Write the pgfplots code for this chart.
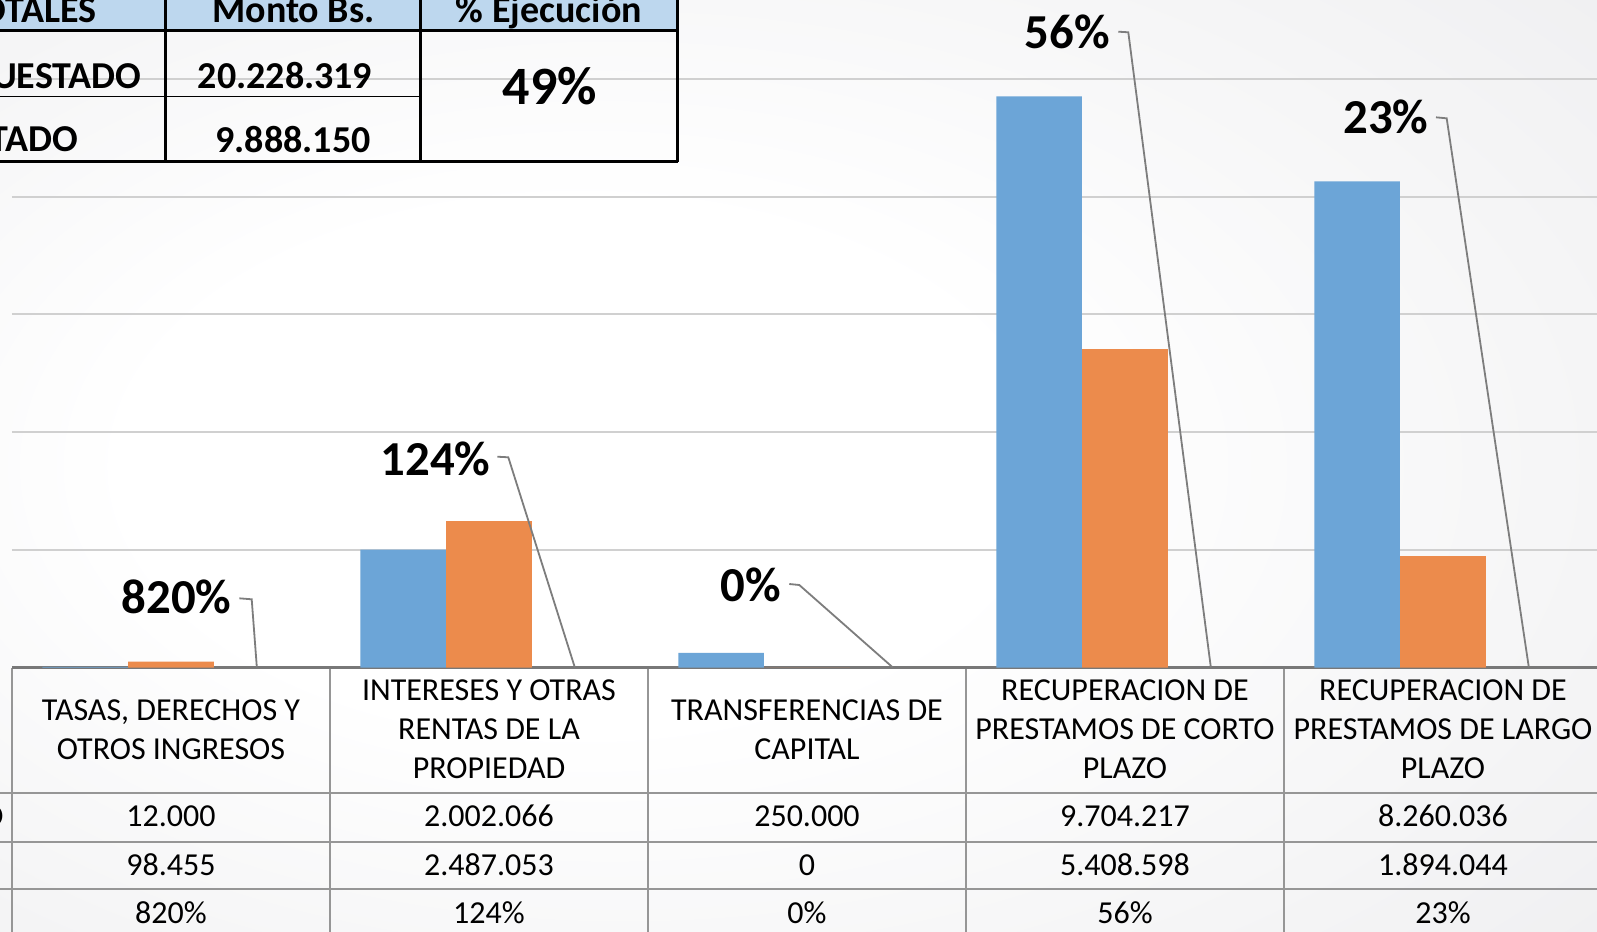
\documentclass[border=0pt]{standalone}
\usepackage{pgfplots}
\pgfplotsset{compat=1.18}
\usepackage{fontspec}
\setmainfont{Carlito}
\definecolor{barblue}{RGB}{108,165,215}
\definecolor{barorange}{RGB}{236,139,76}
\definecolor{gridgray}{RGB}{208,208,208}
\definecolor{tabgray}{RGB}{150,150,150}
\definecolor{basegray}{RGB}{120,120,120}
\definecolor{leadgray}{RGB}{125,125,125}
\definecolor{bggray}{RGB}{225,225,228}
\definecolor{headblue}{RGB}{189,215,238}
\pgfdeclareradialshading{bgshade}{\pgfpoint{-9bp}{0bp}}{color(0bp)=(white); color(14bp)=(white); color(62bp)=(bggray)}
\newcommand{\tabfont}{\fontsize{16pt}{19.5pt}\selectfont}
\newcommand{\lblfont}{\fontsize{24.4pt}{28pt}\selectfont\bfseries}
\newcommand{\boxfont}{\fontsize{19pt}{22pt}\selectfont\bfseries}
\begin{document}
\begin{tikzpicture}
\useasboundingbox (0,0) rectangle (798.5pt,-466pt);
\clip (0,0) rectangle (798.5pt,-466pt);
\begin{scope}[x=0.5pt,y=-0.5pt]
  \shade[shading=bgshade] (0,0) rectangle (1597,932);
  % data table grid
  \draw[tabgray, line width=1pt] (0,792.7) -- (1597,792.7);
  \draw[tabgray, line width=1pt] (0,841.7) -- (1597,841.7);
  \draw[tabgray, line width=1pt] (0,889.3) -- (1597,889.3);
  \foreach \cx in {12,330,648,966,1284}{
    \draw[tabgray, line width=1pt] (\cx,667.5) -- (\cx,940);
  }
  \draw[basegray, line width=1.2pt] (12,667.5) -- (1597,667.5);
  % category names
  \node[anchor=base, font=\tabfont] at (171,720) {TASAS, DERECHOS Y};
  \node[anchor=base, font=\tabfont] at (171,759) {OTROS INGRESOS};
  \node[anchor=base, font=\tabfont] at (489,700.5) {INTERESES Y OTRAS};
  \node[anchor=base, font=\tabfont] at (489,739.5) {RENTAS DE LA};
  \node[anchor=base, font=\tabfont] at (489,778.5) {PROPIEDAD};
  \node[anchor=base, font=\tabfont] at (807,720) {TRANSFERENCIAS DE};
  \node[anchor=base, font=\tabfont] at (807,759) {CAPITAL};
  \node[anchor=base, font=\tabfont] at (1125,700.5) {RECUPERACION DE};
  \node[anchor=base, font=\tabfont] at (1125,739.5) {PRESTAMOS DE CORTO};
  \node[anchor=base, font=\tabfont] at (1125,778.5) {PLAZO};
  \node[anchor=base, font=\tabfont] at (1443,700.5) {RECUPERACION DE};
  \node[anchor=base, font=\tabfont] at (1443,739.5) {PRESTAMOS DE LARGO};
  \node[anchor=base, font=\tabfont] at (1443,778.5) {PLAZO};
  % row label (cut off at the left edge)
  \node[anchor=base east, font=\tabfont, inner sep=0pt] at (4,826.7) {PRESUPUESTADO};
  % values
  \foreach \cx/\a/\b/\c in {171/12.000/98.455/820\%, 489/2.002.066/2.487.053/124\%, 807/250.000/0/0\%, 1125/9.704.217/5.408.598/56\%, 1443/8.260.036/1.894.044/23\%}{
    \node[anchor=base, font=\tabfont] at (\cx,826.7) {\a};
    \node[anchor=base, font=\tabfont] at (\cx,875) {\b};
    \node[anchor=base, font=\tabfont] at (\cx,923.3) {\c};
  }
\end{scope}
\begin{axis}[
  at={(6pt,-333.75pt)}, anchor=south west,
  scale only axis, width=795pt, height=353.1pt,
  xmin=-0.5, xmax=4.5, ymin=0, ymax=12000000,
  axis line style={draw=none},
  xtick=\empty,
  ytick={2000000,4000000,6000000,8000000,10000000},
  yticklabels={}, scaled y ticks=false,
  major tick length=0pt,
  ymajorgrids, grid style={gridgray, line width=1pt},
  clip=false,
  ybar, bar width=0.2695,
]
\addplot[fill=barblue, draw=none, bar shift=-0.27] coordinates {(0,12000) (1,2002066) (2,250000) (3,9704217) (4,8260036)};
\addplot[fill=barorange, draw=none, bar shift=0] coordinates {(0,98455) (1,2487053) (2,0) (3,5408598) (4,1894044)};
% percentage labels with leader lines
\node[anchor=base, font=\lblfont] at (axis cs:0.0173,926000) {820\%};
\draw[leadgray, line width=0.9pt] (axis cs:0.2148,1175900) -- (axis cs:0.2538,1158900) -- (axis cs:0.27,0);
\node[anchor=base, font=\lblfont] at (axis cs:0.8318,3271000) {124\%};
\draw[leadgray, line width=0.9pt] (axis cs:1.0261,3582000) -- (axis cs:1.0607,3572000) -- (axis cs:1.27,0);
\node[anchor=base, font=\lblfont] at (axis cs:1.8236,1118000) {0\%};
\draw[leadgray, line width=0.9pt] (axis cs:1.9443,1418900) -- (axis cs:1.9758,1401900) -- (axis cs:2.27,0);
\node[anchor=base, font=\lblfont] at (axis cs:2.8192,10522000) {56\%};
\draw[leadgray, line width=0.9pt] (axis cs:2.9789,10804000) -- (axis cs:3.0104,10794000) -- (axis cs:3.27,0);
\node[anchor=base, font=\lblfont] at (axis cs:3.8204,9077000) {23\%};
\draw[leadgray, line width=0.9pt] (axis cs:3.9780,9349000) -- (axis cs:4.0116,9332000) -- (axis cs:4.27,0);
\end{axis}
\begin{scope}[x=0.5pt,y=-0.5pt]
  % overlaid totals table
  \fill[headblue] (-5,-5) rectangle (677.4,30.5);
  \draw[black, line width=0.6pt] (0,96.8) -- (420.7,96.8);
  \draw[black, line width=1.5pt] (-5,30.5) -- (677.4,30.5);
  \draw[black, line width=1.5pt] (-5,161) -- (678.1,161);
  \foreach \cx in {165,420.7,677.4}{
    \draw[black, line width=1.5pt] (\cx,-5) -- (\cx,161.7);
  }
  \node[anchor=base east, font=\boxfont, inner sep=0pt] at (96.8,22.4) {TOTALES};
  \node[anchor=base, font=\boxfont, inner sep=0pt] at (293.4,22.4) {Monto Bs.};
  \node[anchor=base, font=\boxfont, inner sep=0pt] at (549,22.4) {\% Ejecución};
  \node[anchor=base east, font=\boxfont, inner sep=0pt] at (141.6,88.6) {PRESUPUESTADO};
  \node[anchor=base, font=\boxfont, inner sep=0pt] at (285,88.6) {20.228.319};
  \node[anchor=base east, font=\boxfont, inner sep=0pt] at (78.4,151.8) {EJECUTADO};
  \node[anchor=base, font=\boxfont, inner sep=0pt] at (293,152.8) {9.888.150};
  \node[font=\fontsize{27pt}{30pt}\selectfont\bfseries, inner sep=0pt] at (550,86.6) {49\%};
\end{scope}
\end{tikzpicture}
\end{document}
